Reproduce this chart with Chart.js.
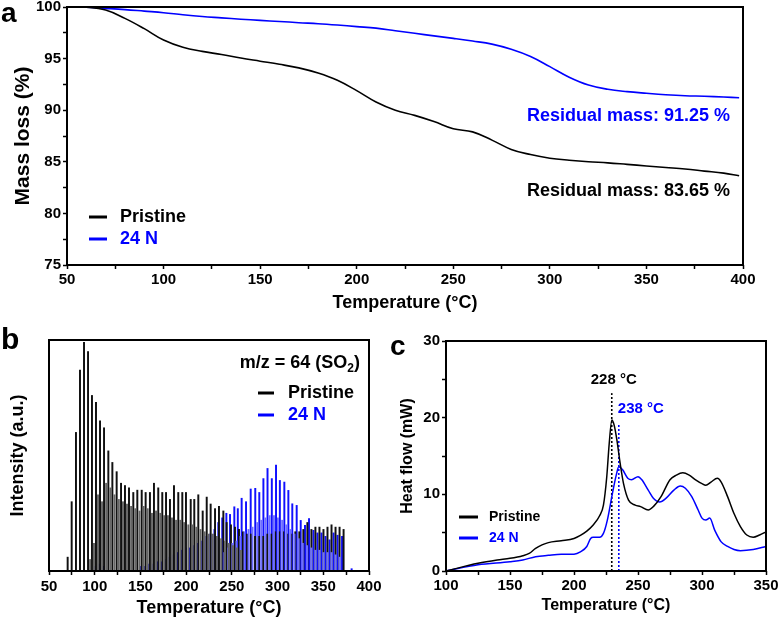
<!DOCTYPE html>
<html>
<head>
<meta charset="utf-8">
<script src="https://cdn.jsdelivr.net/npm/chart.js@4.4.1/dist/chart.umd.min.js"></script>
<style>
  body { margin: 0; background: #fff; }
  #wrap { position: relative; width: 780px; height: 622px; }
  canvas { position: absolute; }
</style>
</head>
<body>
<div id="wrap">
  <canvas id="chartA" width="780" height="322" style="left:0;top:0"></canvas>
  <canvas id="chartB" width="390" height="300" style="left:0;top:322px"></canvas>
  <canvas id="chartC" width="390" height="300" style="left:390px;top:322px"></canvas>
</div>
<script>
// panel a - TGA
var tgaTemp = [50, 60, 70, 80, 90, 100, 110, 120, 130, 140, 150, 160, 170, 180, 190, 200, 210, 220, 230, 240,
  250, 260, 270, 280, 290, 300, 310, 320, 330, 340, 350, 360, 370, 380, 390, 398];
var tgaPristine = [100, 99.97, 99.7, 98.9, 97.9, 96.8, 96.1, 95.7, 95.4, 95.05, 94.75, 94.45, 94.1, 93.6, 92.9, 91.9, 90.8, 90.0, 89.5, 88.9,
  88.2, 87.9, 87.1, 86.2, 85.7, 85.35, 85.15, 85.0, 84.9, 84.75, 84.6, 84.45, 84.3, 84.1, 83.9, 83.65];
var tga24N = [100, 99.98, 99.87, 99.75, 99.6, 99.45, 99.25, 99.08, 98.95, 98.82, 98.7, 98.6, 98.48, 98.38, 98.25, 98.1, 97.95, 97.7, 97.45, 97.2,
  96.96, 96.7, 96.4, 95.9, 95.2, 94.22, 93.2, 92.44, 92.03, 91.8, 91.64, 91.5, 91.4, 91.35, 91.28, 91.21];

// panel b - MS m/z 64 spikes
var pristineT = [70.4, 74.8, 79.5, 83.9, 88.3, 92.7, 97.0, 101.4, 105.8, 110.2,
  114.9, 119.3, 124.0, 128.8, 133.1, 137.5, 142.2, 146.6, 151.4, 155.7,
  160.4, 164.8, 169.5, 173.9, 178.0, 182.3, 186.7, 191.4, 195.8, 199.8,
  205.0, 208.9, 213.3, 218.1, 222.5, 226.8, 231.6, 235.9, 240.7, 244.3,
  249.0, 253.4, 257.8, 262.2, 266.6, 271.0, 275.4, 279.8, 284.2, 288.6,
  293.0, 297.4, 301.8, 306.2, 310.6, 315.0, 319.4, 323.8, 328.2, 332.6,
  337.0, 341.4, 345.8, 350.2, 354.6, 359.0, 363.4, 367.8, 372.2];
var pristinePeak = [6, 30, 60, 87, 99, 95, 76, 73, 65, 62,
  52, 47, 43, 38, 37, 36, 34, 35, 35, 34,
  34, 38, 36, 34, 34, 31, 37, 34, 34, 34,
  31, 31, 33, 26, 32, 29, 27, 28, 26, 21,
  20, 19, 18, 17, 16, 16, 15, 15, 15, 16,
  16, 17, 17, 17, 16, 16, 17, 17, 18, 21,
  18, 19, 19, 18, 19, 20, 19, 19, 18];
var pristineMinorT = [95.0, 99.2, 103.6, 108.0, 112.5, 117.1, 121.6, 126.4, 130.9, 135.3,
  139.8, 144.4, 149.0, 153.5, 158.0, 162.6, 167.1, 171.7, 176.0, 180.1,
  184.5, 189.0, 193.6, 197.8, 202.4, 207.0, 211.1, 215.7, 220.3, 224.6,
  229.2, 233.7, 238.3, 242.5, 246.8, 251.2, 255.6, 260.0];
var pristineMinorPeak = [5, 12, 33, 30, 38, 36, 33, 31, 30, 29,
  28, 27, 26, 28, 27, 25, 26, 25, 24, 24,
  23, 22, 22, 21, 20, 20, 19, 18, 17, 16,
  16, 15, 14, 13, 12, 11, 10, 9];
var blueT = [96.0, 100.4, 104.8, 109.2, 150.0, 154.5, 159.0, 163.5, 168.0, 172.5,
  177.0, 181.5, 186.0, 190.5, 195.0, 199.5, 204.0, 208.5, 213.0, 217.5,
  222.0, 226.5, 231.0, 235.2, 239.5, 244.0, 248.0, 252.7, 256.5, 260.7,
  265.5, 270.6, 275.6, 280.0, 284.5, 289.0, 293.7, 298.3, 302.5, 307.4,
  311.8, 316.1, 320.9, 325.3, 330.0, 334.4, 339.2, 343.6, 348.0, 352.4,
  356.8, 361.2, 365.6, 370.5, 381.0];
var bluePeak = [1, 2, 3, 2, 2, 2, 3, 3, 4, 4,
  5, 6, 7, 8, 9, 10, 10, 11, 12, 13,
  15, 16, 18, 21, 23, 25, 24.5, 27.8, 27, 31.5,
  30, 35.5, 35.8, 34, 40, 44.4, 40, 45.9, 39.2, 38.5,
  34.9, 29.1, 28.4, 21.9, 19.8, 22.7, 17.6, 16.5, 16.5, 15,
  13.5, 16.5, 15.5, 15, 1];
var blueMinorT = [241.8, 246.2, 250.6, 255.0, 259.4, 263.8, 268.2, 272.6, 277.8, 282.2,
  286.7, 291.4, 296.0, 300.4, 305.0, 309.6, 314.0, 318.5, 323.1, 327.6,
  332.2, 336.8, 341.4, 345.8, 350.2, 354.6, 359.0, 363.4, 368.0];
var blueMinorPeak = [8, 10, 12, 13, 15, 17, 18, 19, 21, 22,
  23, 24, 24, 23, 22, 20, 18, 16, 14, 12,
  11, 10, 9, 9, 8, 8, 8, 7, 6];

// panel c - DSC
var dscTempPristine = [100, 125, 140, 150, 160, 165, 170, 175, 180, 190,
  200, 205, 210, 215, 220, 223, 225.6, 227.5, 229.6, 231.4,
  233.5, 236.1, 238.7, 242.6, 247.8, 252, 258, 262, 268, 275,
  280, 285, 290, 295, 300, 303, 307, 312, 315, 320,
  325, 330, 335, 340, 345, 350];
var dscPristine = [0, 1.0, 1.43, 1.65, 2.0, 2.3, 2.95, 3.4, 3.7, 3.95,
  4.25, 4.65, 5.2, 6.0, 7.2, 8.6, 12.3, 16.6, 19.7, 19.0,
  17.1, 14.0, 11.4, 9.25, 8.6, 8.4, 7.95, 8.4, 9.7, 11.9,
  12.5, 12.8, 12.5, 11.9, 11.4, 11.2, 11.6, 12.1, 11.6, 9.7,
  7.5, 5.8, 4.7, 4.4, 4.7, 5.1];
var dscTemp24N = [100, 125, 150, 160, 170, 180, 190, 200, 205, 210,
  213, 215, 220, 223, 226, 230, 233, 235, 238, 242,
  245, 250, 253, 258, 262, 267, 272, 278, 283, 287,
  292, 297, 300, 303, 306, 310, 315, 320, 325, 330,
  340, 350];
var dsc24N = [0, 0.8, 1.2, 1.43, 1.87, 2.04, 2.17, 2.2, 2.5, 3.2,
  4.25, 4.4, 4.4, 4.9, 6.6, 10.1, 12.5, 13.6, 13.2, 12.1,
  11.9, 12.3, 11.9, 10.55, 9.5, 9.0, 9.5, 10.55, 11.1, 10.8,
  9.7, 7.95, 6.9, 6.65, 6.9, 5.3, 3.8, 3.2, 2.8, 2.65,
  2.8, 3.2];
var peakMarkT = [229.5, 235];
var peakMarkTop = [23.2, 19.3];

var seriesNames = ["Pristine", "24 N"];
var BLACK = "#000000";
var BLUE = "#0000ff";
var FAMILY = '"Liberation Sans", Arial, sans-serif';

function pts(xs, ys) {
    return xs.map(function (x, i) { return { x: x, y: ys[i] }; });
}

function f(size) {
    return { family: FAMILY, size: size, weight: "bold" };
}

var frame = {
    id: "frame",
    afterDatasetsDraw: function (chart) {
        var a = chart.chartArea, ctx = chart.ctx;
        ctx.save();
        ctx.strokeStyle = "#000";
        ctx.lineWidth = 2;
        ctx.strokeRect(a.left, a.top, a.right - a.left, a.bottom - a.top);
        ctx.restore();
    }
};

function overlay(draw) {
    return {
        id: "overlay",
        afterDraw: function (chart) {
            var ctx = chart.ctx;
            ctx.save();
            draw(ctx, chart);
            ctx.restore();
        }
    };
}

function text(ctx, str, x, y, size, color, align) {
    ctx.font = "bold " + size + "px " + FAMILY;
    ctx.fillStyle = color;
    ctx.textAlign = align || "left";
    ctx.textBaseline = "middle";
    ctx.fillText(str, x, y);
}

function legendRow(ctx, x0, x1, xt, y, label, color, size) {
    ctx.strokeStyle = color;
    ctx.lineWidth = 3;
    ctx.beginPath();
    ctx.moveTo(x0, y);
    ctx.lineTo(x1, y);
    ctx.stroke();
    text(ctx, label, xt, y, size, color);
}

function xAxis(min, max, height, labelPad, titleText, titleSize, titlePad) {
    return {
        type: "linear", min: min, max: max, offset: false,
        afterFit: function (s) { s.height = height; s.paddingLeft = 0; s.paddingRight = 0; },
        border: { display: false },
        grid: { display: true, drawOnChartArea: false, drawTicks: true, tickLength: 4, tickColor: "#000", tickWidth: 1.5, offset: false },
        ticks: {
            stepSize: 25, autoSkip: false, maxRotation: 0, padding: labelPad, color: "#000", font: f(15),
            callback: function (v) { return v % 50 === 0 ? v : ""; }
        },
        title: { display: true, text: titleText, color: "#000", font: f(titleSize), padding: { top: 0, bottom: titlePad } }
    };
}

// chart a
new Chart(document.getElementById("chartA"), {
    type: "line",
    data: {
        datasets: [
            { label: seriesNames[0], data: pts(tgaTemp, tgaPristine), borderColor: BLACK, borderWidth: 1.6, pointRadius: 0, tension: 0.4 },
            { label: seriesNames[1], data: pts(tgaTemp, tga24N), borderColor: BLUE, borderWidth: 1.6, pointRadius: 0, tension: 0.4 }
        ]
    },
    options: {
        responsive: false,
        animation: false,
        layout: { padding: { left: 0, top: 7, right: 37, bottom: 0 } },
        plugins: { legend: { display: false }, tooltip: { enabled: false } },
        scales: {
            x: xAxis(50, 400, 57, 2, "Temperature (°C)", 18, 8),
            y: {
                min: 75, max: 100,
                afterFit: function (s) { s.width = 67; s.paddingTop = 0; s.paddingBottom = 0; },
                border: { display: false },
                grid: { display: true, drawOnChartArea: false, drawTicks: true, tickLength: 4, tickColor: "#000", tickWidth: 1.5 },
                ticks: {
                    stepSize: 2.5, autoSkip: false, padding: 2, color: "#000", font: f(15),
                    callback: function (v) { return v % 5 === 0 ? v : ""; }
                },
                title: { display: true, text: "Mass loss (%)", color: "#000", font: f(21), padding: { top: 11, bottom: 0 } }
            }
        }
    },
    plugins: [frame, overlay(function (ctx) {
        text(ctx, "a", 1, 14, 28, BLACK);
        legendRow(ctx, 89, 107, 120, 217, seriesNames[0], BLACK, 18);
        legendRow(ctx, 89, 107, 120, 239, seriesNames[1], BLUE, 18);
        text(ctx, "Residual mass: 91.25 %", 730, 116, 18, BLUE, "right");
        text(ctx, "Residual mass: 83.65 %", 730, 191, 18, BLACK, "right");
    })]
});

// chart b
function spikes(xs, ys, color) {
    return { data: pts(xs, ys), backgroundColor: color, borderWidth: 0, barThickness: 1.3, grouped: false };
}

new Chart(document.getElementById("chartB"), {
    type: "bar",
    data: {
        datasets: [
            spikes(pristineMinorT, pristineMinorPeak, "#666666"),
            spikes(blueMinorT, blueMinorPeak, "#6f6fff"),
            spikes(pristineT, pristinePeak, "#111111"),
            spikes(blueT, bluePeak, "#1010ff")
        ]
    },
    options: {
        responsive: false,
        animation: false,
        layout: { padding: { left: 0, top: 18, right: 21, bottom: 0 } },
        plugins: { legend: { display: false }, tooltip: { enabled: false } },
        scales: {
            x: xAxis(50, 400, 51, 3, "Temperature (°C)", 18, 3),
            y: {
                min: 0, max: 100,
                afterFit: function (s) { s.width = 49; s.paddingTop = 0; s.paddingBottom = 0; },
                border: { display: false },
                grid: { display: false },
                ticks: { display: false },
                title: { display: true, text: "Intensity (a.u.)", color: "#000", font: f(18), padding: { top: 7, bottom: 0 } }
            }
        }
    },
    plugins: [frame, overlay(function (ctx) {
        text(ctx, "b", 1, 19, 30, BLACK);
        // m/z = 64 (SO2) with subscript
        ctx.font = "bold 18px " + FAMILY;
        var p1 = "m/z = 64 (SO", p3 = ")";
        var w1 = ctx.measureText(p1).width, w3 = ctx.measureText(p3).width;
        ctx.font = "bold 12px " + FAMILY;
        var w2 = ctx.measureText("2").width;
        var x = 360 - (w1 + w2 + w3);
        text(ctx, p1, x, 41, 18, BLACK);
        text(ctx, "2", x + w1, 47, 12, BLACK);
        text(ctx, p3, x + w1 + w2, 41, 18, BLACK);
        legendRow(ctx, 258, 274, 288, 71, seriesNames[0], BLACK, 18);
        legendRow(ctx, 258, 274, 288, 93, seriesNames[1], BLUE, 18);
    })]
});

// chart c
function marker(i, color) {
    return {
        data: [{ x: peakMarkT[i], y: 0 }, { x: peakMarkT[i], y: peakMarkTop[i] }],
        borderColor: color, borderWidth: 1.6, borderDash: [2, 2], pointRadius: 0
    };
}

new Chart(document.getElementById("chartC"), {
    type: "line",
    data: {
        datasets: [
            { label: seriesNames[0], data: pts(dscTempPristine, dscPristine), borderColor: BLACK, borderWidth: 1.5, pointRadius: 0, cubicInterpolationMode: "monotone" },
            { label: seriesNames[1], data: pts(dscTemp24N, dsc24N), borderColor: BLUE, borderWidth: 1.5, pointRadius: 0, cubicInterpolationMode: "monotone" },
            marker(0, BLACK),
            marker(1, BLUE)
        ]
    },
    options: {
        responsive: false,
        animation: false,
        layout: { padding: { left: 0, top: 19, right: 14, bottom: 0 } },
        plugins: { legend: { display: false }, tooltip: { enabled: false } },
        scales: {
            x: xAxis(100, 350, 51, 2, "Temperature (°C)", 16, 7),
            y: {
                min: 0, max: 30,
                afterFit: function (s) { s.width = 56; s.paddingTop = 0; s.paddingBottom = 0; },
                border: { display: false },
                grid: { display: true, drawOnChartArea: false, drawTicks: true, tickLength: 4, tickColor: "#000", tickWidth: 1.5 },
                ticks: {
                    stepSize: 5, autoSkip: false, padding: 2, color: "#000", font: f(15),
                    callback: function (v) { return v % 10 === 0 ? v : ""; }
                },
                title: { display: true, text: "Heat flow (mW)", color: "#000", font: f(16), padding: { top: 8, bottom: 0 } }
            }
        }
    },
    plugins: [frame, overlay(function (ctx, chart) {
        var xs = chart.scales.x, ys = chart.scales.y;
        text(ctx, "c", 0, 25, 28, BLACK);
        text(ctx, "228 °C", xs.getPixelForValue(peakMarkT[0]) + 2, ys.getPixelForValue(peakMarkTop[0]) - 13, 15, BLACK, "center");
        text(ctx, "238 °C", xs.getPixelForValue(peakMarkT[1]) - 1, ys.getPixelForValue(peakMarkTop[1]) - 14, 15, BLUE, "left");
        legendRow(ctx, 69, 88, 99, 195, seriesNames[0], BLACK, 14);
        legendRow(ctx, 69, 88, 99, 216, seriesNames[1], BLUE, 14);
    })]
});
</script>
</body>
</html>
